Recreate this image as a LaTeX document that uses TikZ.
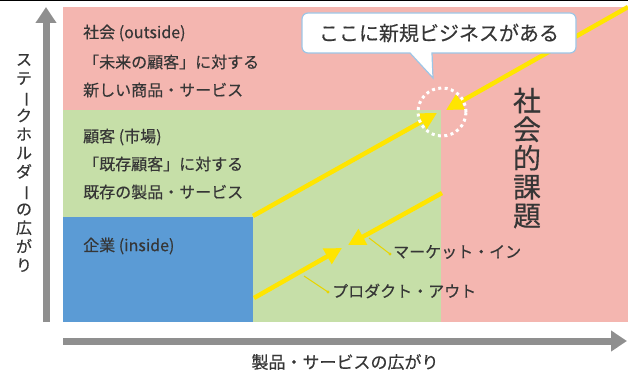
\documentclass[tikz,border=0pt]{standalone}
\usepackage{fontspec}
\setmainfont{Noto Sans CJK JP}[FakeBold=0.35]
\usepackage{graphicx}
\usetikzlibrary{arrows.meta}
\definecolor{pinkbg}{HTML}{F4B6B0}
\definecolor{greenbg}{HTML}{C6DFA8}
\definecolor{bluebg}{HTML}{5B9BD5}
\definecolor{yell}{HTML}{FFE500}
\definecolor{leadcol}{HTML}{E8D400}
\definecolor{axisgray}{HTML}{8F8F8F}
\definecolor{txt}{HTML}{363636}
\definecolor{callborder}{HTML}{9DC6E6}
\newcommand\tatebou{\rotatebox[origin=c]{-90}{ー}}
\begin{document}
\begin{tikzpicture}[x=1pt,y=-1pt,
  lbl/.style={anchor=west, inner sep=0pt, text=txt, font=\fontsize{16}{19}\selectfont},
  bigarrow/.style={draw=yell, line width=4.5pt, -{Triangle[length=17pt,width=17pt]}},
  leader/.style={draw=leadcol, line width=1pt},
  axisline/.style={draw=axisgray, line width=7pt, -{Triangle[length=16pt,width=20pt]}}]
\useasboundingbox (0,0) rectangle (628,374);
% regions
\fill[pinkbg] (63,7) rectangle (628,322);
\fill[greenbg] (63,110) rectangle (441,322);
\fill[bluebg] (63,217) rectangle (253,322);
% axes
\coordinate (yb) at (46,322);
\coordinate (yt) at (46,7);
\draw[axisline] (yb) -- (yt);
\coordinate (xl) at (63,341);
\coordinate (xr) at (627,341);
\draw[axisline] (xl) -- (xr);
% yellow arrows
\coordinate (a1s) at (253,216);
\coordinate (a1e) at (437,113);
\coordinate (a2s) at (628,7);
\coordinate (a2e) at (446,110);
\coordinate (b1s) at (254,298);
\coordinate (b1e) at (342,248);
\coordinate (b2s) at (442,193);
\coordinate (b2e) at (348,245);
\draw[bigarrow] (a1s) -- (a1e);
\draw[bigarrow] (a2s) -- (a2e);
\draw[bigarrow] (b1s) -- (b1e);
\draw[bigarrow] (b2s) -- (b2e);
% dotted circle
\node[circle, draw=white, line width=3pt, dash pattern=on 3pt off 3.4pt, minimum size=48pt, inner sep=0pt] (spot) at (442,112) {};
% callout
\draw[callborder, fill=white, line width=1.2pt] (433,78) -- (410,53) [rounded corners=6pt] -- (302,53) -- (302,13) -- (576,13) -- (576,53) [sharp corners] -- (432,53) -- cycle;
\node[inner sep=0pt, text=txt, font=\fontsize{20}{24}\selectfont] (callt) at (439,33) {ここに新規ビジネスがある};
% region texts
\node[lbl] (t1) at (83,33) {社会 (outside)};
\node[lbl] (t2) at (83,62) {「未来の顧客」に対する};
\node[lbl] (t3) at (83,90) {新しい商品・サービス};
\node[lbl] (t4) at (83,137) {顧客 (市場)};
\node[lbl] (t5) at (83,164) {「既存顧客」に対する};
\node[lbl] (t6) at (83,192) {既存の製品・サービス};
\node[lbl] (t7) at (83,246) {企業 (inside)};
% arrow labels
\node[lbl] (mi) at (393,252) {マーケット・イン};
\node[lbl] (po) at (332,291) {プロダクト・アウト};
\coordinate (mil) at (369,238);
\coordinate (mid) at (390,254);
\draw[leader] (mil) -- (mid);
\fill[leadcol] (mid) circle (1.6);
\coordinate (pol) at (304,276);
\coordinate (pod) at (328,292);
\draw[leader] (pol) -- (pod);
\fill[leadcol] (pod) circle (1.6);
% vertical texts
\node[inner sep=0pt, text=txt, align=center, font=\fontsize{28}{28.75}\selectfont] (kadai) at (527,158) {社\\会\\的\\課\\題};
\node[inner sep=0pt, text=txt, align=center, font=\fontsize{16}{18.7}\selectfont] (ylab) at (24,163) {ス\\テ\\\tatebou\\ク\\ホ\\ル\\ダ\\\tatebou\\の\\広\\が\\り};
\node[inner sep=0pt, text=txt, font=\fontsize{17}{20}\selectfont] (xlab) at (345,362) {製品・サービスの広がり};
% top edge line
\draw[line width=1.5pt] (0,0.75) -- (628,0.75);
\end{tikzpicture}
\end{document}
